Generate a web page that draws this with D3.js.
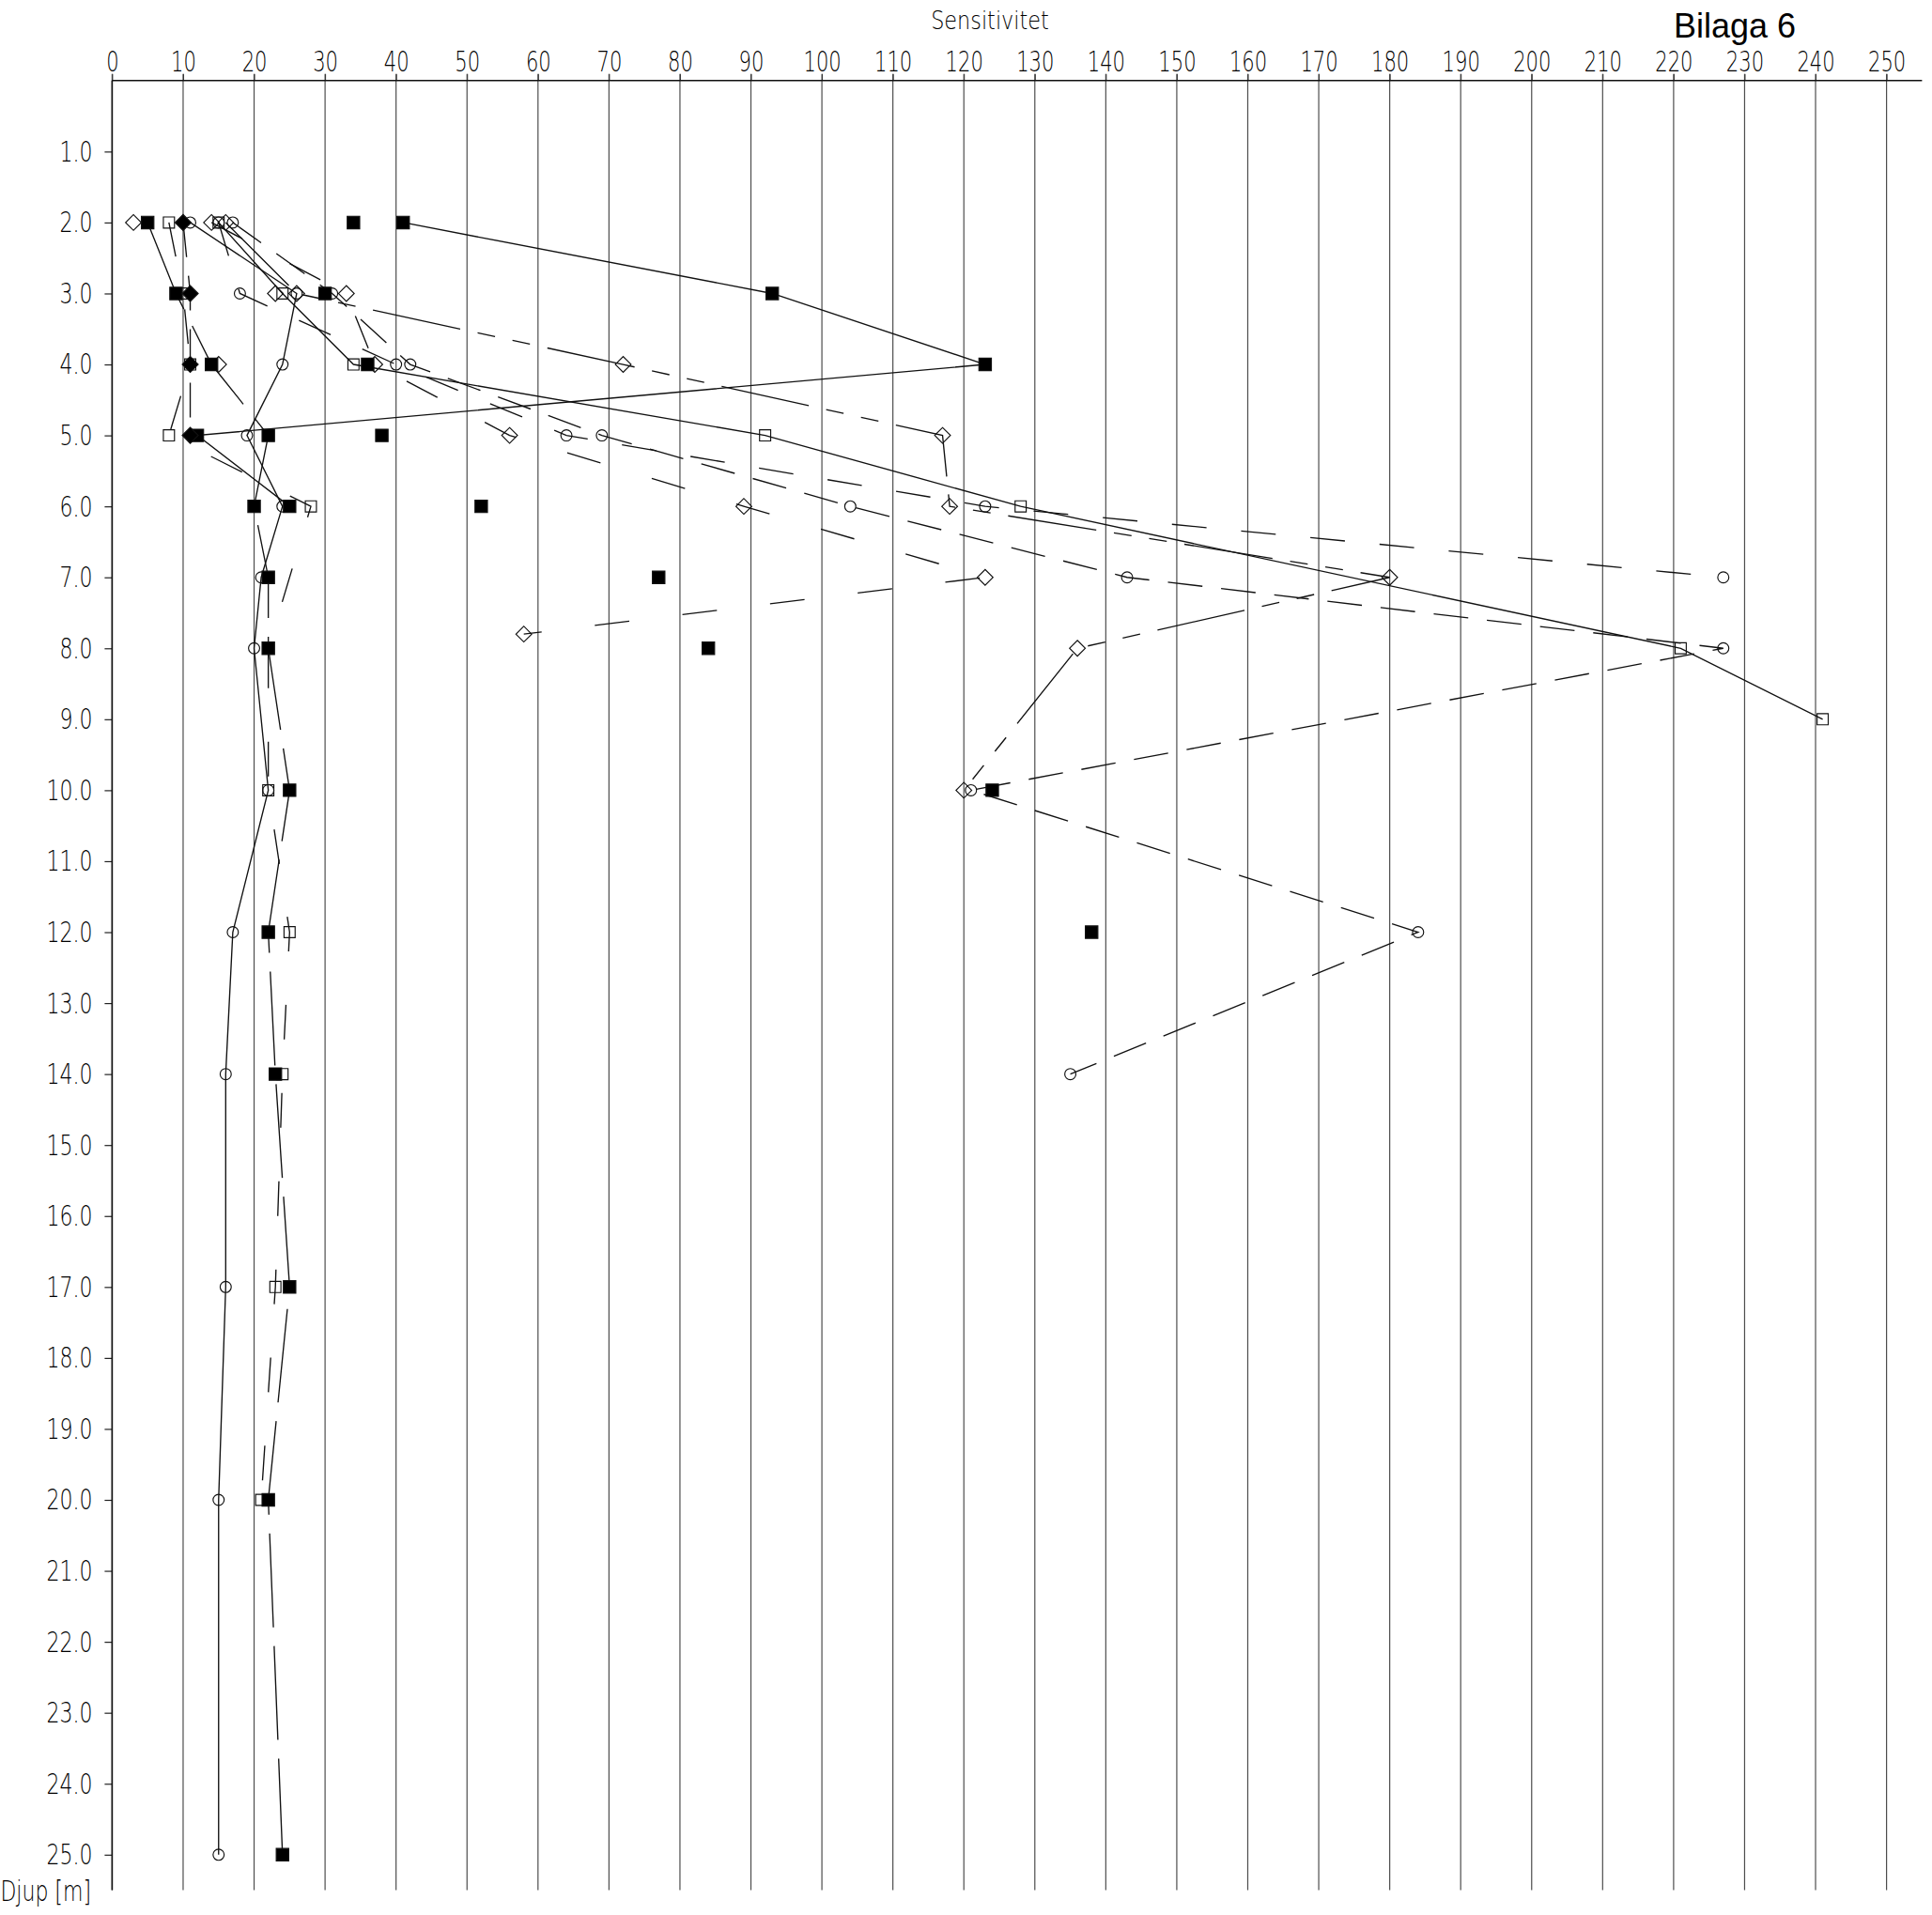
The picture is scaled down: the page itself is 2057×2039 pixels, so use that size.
<!DOCTYPE html>
<html>
<head>
<meta charset="utf-8">
<script src="https://cdn.jsdelivr.net/npm/d3@7"></script>
<style>
  html, body { margin: 0; padding: 0; background: #fff; }
  svg { display: block; }
  .cad { font-family: "DejaVu Sans", sans-serif; font-weight: 200; fill: #000; }
</style>
</head>
<body>
<svg id="chart" width="2057" height="2039"></svg>
<script>
// ---- axis ticks -------------------------------------------------------
const sensTicks  = d3.range(0, 251, 10);   // Sensitivitet 0 ... 250
const depthTicks = d3.range(1, 26, 1);     // Djup 1.0 ... 25.0

// ---- measured profiles, [depth (m), sensitivity] ------------------------
const fsqSolid   = [[2,41],[3,93],[4,123],[5,12],[6,25]];
const fsqDashed  = [[2,5],[3,9],[4,14],[5,22],[6,20],[7,22],[8,22],[10,25],[12,22],[14,23],[17,25],[20,22],[25,24]];
const fsqPoints  = [[2,34],[3,30],[4,36],[5,38],[6,52],[7,77],[8,84],[10,124],[12,138]];
const osqSolid   = [[2,15],[3,24],[4,34],[5,92],[6,128],[8,221],[9,241]];
const osqDashed  = [[2,8],[3,10],[4,11],[5,8],[6,28],[8,22],[10,22],[12,25],[14,24],[17,23],[20,21]];
const circSolid  = [[2,11],[3,26],[4,24],[5,19],[6,24],[7,21],[8,20],[10,22],[12,17],[14,16],[17,16],[20,15],[25,15]];
const circDashA  = [[2,15],[3,18],[4,40],[5,64],[6,123],[7,227]];
const circDashB  = [[2,17],[3,31],[4,42],[5,69],[6,104],[7,143],[8,227],[10,121],[12,184],[14,135]];
const diaPhantom = [[2,16],[3,26],[4,72],[5,117],[6,118],[7,180],[8,136],[10,120]];
const diaDashed  = [[2,14],[3,33],[4,37],[5,56],[6,89],[7,123],[7.8,58]];
const diaPoints  = [[2,3],[3,23],[4,15]];
const fdiaDashed = [[2,10],[3,11],[4,11],[5,11]];

// ---- drawing styles per series ----------------------------------------
const PHANTOM = "95,19,19,19,19,19";
const series = [
  { pts: fsqSolid,   mark: "fsq",  dash: null },
  { pts: fsqDashed,  mark: "fsq",  dash: "100,20" },
  { pts: fsqPoints,  mark: "fsq",  dash: "none" },
  { pts: osqSolid,   mark: "osq",  dash: null },
  { pts: osqDashed,  mark: "osq",  dash: "37,57" },
  { pts: circSolid,  mark: "circ", dash: null },
  { pts: circDashA,  mark: "circ", dash: "37,37" },
  { pts: circDashB,  mark: "circ", dash: "37,20" },
  { pts: diaPhantom, mark: "dia",  dash: PHANTOM },
  { pts: diaDashed,  mark: "dia",  dash: "37,57" },
  { pts: diaPoints,  mark: "dia",  dash: "none" },
  { pts: fdiaDashed, mark: "fdia", dash: "37,20" }
];

const svg = d3.select("#chart");

const x = d3.scaleLinear().domain([0, 250]).range([119.4, 2008.6]);
const y = d3.scaleLinear().domain([0, 25]).range([85.8, 1974.8]);
const xEnd = x(255), yEnd = y(25.5);

// squeeze a text element to a share of its natural width (narrow drafting lettering)
function condense(sel, k) {
  sel.each(function () {
    const w = this.getComputedTextLength();
    d3.select(this).attr("textLength", w * k).attr("lengthAdjust", "spacingAndGlyphs");
  });
}

// vertical grid lines, one per top tick
svg.append("g").selectAll("line").data(sensTicks).join("line")
  .attr("x1", d => x(d)).attr("x2", d => x(d))
  .attr("y1", y(0) - 7).attr("y2", yEnd)
  .attr("stroke", "#4d4d4d").attr("stroke-width", 1.2);

// top axis (Sensitivitet)
const topAxis = svg.append("g").attr("transform", `translate(0,${y(0)})`)
  .call(d3.axisTop(x).tickValues(sensTicks).tickSize(7).tickPadding(3).tickFormat(d3.format("d")));
topAxis.select(".domain").remove();
topAxis.selectAll(".tick line").attr("stroke", "#333");
topAxis.selectAll(".tick text").attr("class", "cad").style("font-size", "31px").attr("fill", "#000");
topAxis.append("line").attr("x1", x(0)).attr("x2", xEnd).attr("y1", 0).attr("y2", 0)
  .attr("stroke", "#111").attr("stroke-width", 1.6);

// left axis (Djup)
const leftAxis = svg.append("g").attr("transform", `translate(${x(0)},0)`)
  .call(d3.axisLeft(y).tickValues(depthTicks).tickSize(8).tickPadding(13).tickFormat(d3.format(".1f")));
leftAxis.select(".domain").remove();
leftAxis.selectAll(".tick line").attr("stroke", "#222").attr("stroke-width", 1.2);
leftAxis.selectAll(".tick text").attr("class", "cad").style("font-size", "31px").attr("fill", "#000");
leftAxis.append("line").attr("x1", 0).attr("x2", 0).attr("y1", y(0)).attr("y2", yEnd)
  .attr("stroke", "#111").attr("stroke-width", 1.6);

condense(topAxis.selectAll(".tick text"), 0.68);
condense(leftAxis.selectAll(".tick text"), 0.71);

// profile lines
const line = d3.line().x(d => x(d[1])).y(d => y(d[0]));
svg.append("g").selectAll("path")
  .data(series.filter(s => s.dash !== "none")).join("path")
  .attr("d", s => line(s.pts))
  .attr("fill", "none").attr("stroke", "#111").attr("stroke-width", 1.35)
  .attr("stroke-dasharray", s => s.dash);

// markers: open ones first, filled ones on top
const sym = {
  fsq:  { type: d3.symbolSquare, size: 176, rot: 0,  fill: "#000" },
  osq:  { type: d3.symbolSquare, size: 140, rot: 0,  fill: "none" },
  circ: { type: d3.symbolCircle, size: 110, rot: 0,  fill: "none" },
  dia:  { type: d3.symbolSquare, size: 140, rot: 45, fill: "none" },
  fdia: { type: d3.symbolSquare, size: 145, rot: 45, fill: "#000" }
};
const order = ["osq", "circ", "dia", "fsq", "fdia"];
const marks = [];
order.forEach(m => series.filter(s => s.mark === m)
  .forEach(s => s.pts.forEach(p => marks.push({ m, p }))));

svg.append("g").selectAll("path").data(marks).join("path")
  .attr("d", d => d3.symbol().type(sym[d.m].type).size(sym[d.m].size)())
  .attr("transform", d => `translate(${x(d.p[1])},${y(d.p[0])}) rotate(${sym[d.m].rot})`)
  .attr("fill", d => sym[d.m].fill)
  .attr("stroke", "#111").attr("stroke-width", 1.15);

// titles
const t1 = svg.append("text").attr("class", "cad")
  .attr("x", 1054).attr("y", 31).attr("text-anchor", "middle")
  .style("font-size", "26px").text("Sensitivitet");
condense(t1, 0.86);

const t2 = svg.append("text").attr("class", "cad")
  .attr("x", 97).attr("y", 2024).attr("text-anchor", "end")
  .style("font-size", "31px").text("Djup [m]");
condense(t2, 0.71);

svg.append("text").attr("x", 1782).attr("y", 40)
  .style("font-family", "'Liberation Sans', Arial, sans-serif").style("font-size", "36px")
  .attr("fill", "#000").text("Bilaga 6");
</script>
</body>
</html>
